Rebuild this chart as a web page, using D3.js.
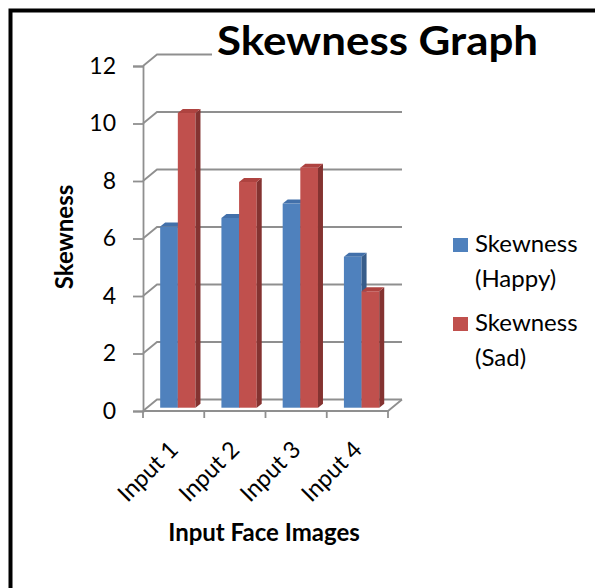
<!DOCTYPE html>
<html>
<head>
<meta charset="utf-8">
<script src="https://cdn.jsdelivr.net/npm/d3@7"></script>
<style>
  body { margin: 0; background: #fff; }
  svg { display: block; font-family: Lato, "Noto Sans", sans-serif; }
</style>
</head>
<body>
<div id="chart"></div>
<script>
// chart data
const categories = ["Input 1", "Input 2", "Input 3", "Input 4"];
const seriesNames = ["Skewness (Happy)", "Skewness (Sad)"];
const legendLines = [["Skewness", "(Happy)"], ["Skewness", "(Sad)"]];
const happyValues = [6.3, 6.6, 7.1, 5.25];
const sadValues = [10.25, 7.85, 8.35, 4.05];
const yTicks = [0, 2, 4, 6, 8, 10, 12];

const width = 595, height = 588;

// colours for front / side / top faces
const faceColors = [
    { front: "#4F81BD", side: "#385D8A", top: "#4270AA" },
    { front: "#C0504D", side: "#843331", top: "#AE4340" }
];

const svg = d3.select("#chart").append("svg")
    .attr("width", width)
    .attr("height", height);

// outer frame (only top + left visible, rest runs off the picture)
svg.append("rect")
    .attr("x", 10.5).attr("y", 10.5)
    .attr("width", 700).attr("height", 700)
    .attr("fill", "none")
    .attr("stroke", "#000")
    .attr("stroke-width", 4);

// scales (front plane)
const x0 = d3.scaleBand().domain(categories).range([143, 388]);
const x1 = d3.scaleBand().domain(seriesNames).range([0, x0.bandwidth()]).paddingOuter(0.735);
const y = d3.scaleLinear().domain([0, 12]).range([411, 66]);

// depth of the floor, and of the bars
const depth = { dx: 14, dy: -11.5 };
const barStart = { dx: 4.2, dy: -3.3 };
const barDepth = { dx: 5, dy: -4 };

const gridColor = "#8f8f8f";

// back wall gridlines + diagonal connectors
const grid = svg.append("g").attr("stroke", gridColor).attr("stroke-width", 1.8).attr("fill", "none");
yTicks.forEach(t => {
    grid.append("path")
        .attr("d", `M${x0.range()[0]},${y(t)} L${x0.range()[0] + depth.dx},${y(t) + depth.dy} L${x0.range()[1] + depth.dx},${y(t) + depth.dy}`);
});
// floor front + right edge
grid.append("path")
    .attr("d", `M${x0.range()[0]},${y(0)} L${x0.range()[1]},${y(0)} L${x0.range()[1] + depth.dx},${y(0) + depth.dy}`);

// y axis (front vertical line + ticks)
const yAxis = d3.axisLeft(y).tickValues(yTicks).tickSize(10).tickPadding(17).tickFormat(d3.format("d"));
svg.append("g")
    .attr("transform", `translate(${x0.range()[0]},0)`)
    .call(yAxis)
    .call(g => g.select(".domain").attr("stroke", gridColor).attr("stroke-width", 1.8))
    .call(g => g.selectAll(".tick line").attr("stroke", gridColor).attr("stroke-width", 1.8))
    .call(g => g.selectAll(".tick text").attr("font-size", 23).attr("fill", "#000").attr("font-family", "Lato, sans-serif"));

// x ticks at band edges
const xEdges = categories.map(c => x0(c)).concat([x0.range()[1]]);
svg.append("g").attr("stroke", gridColor).attr("stroke-width", 1.8)
    .selectAll("line").data(xEdges).join("line")
    .attr("x1", d => d).attr("x2", d => d)
    .attr("y1", y(0)).attr("y2", y(0) + 7);

// bars
const rows = categories.map((c, i) => ({ cat: c, vals: [happyValues[i], sadValues[i]] }));
const bars = svg.append("g");
rows.forEach(r => {
    r.vals.forEach((v, si) => {
        const xa = x0(r.cat) + x1(seriesNames[si]) + barStart.dx;
        const xb = xa + x1.bandwidth();
        const yt = y(v) + barStart.dy;
        const yb = y(0) + barStart.dy;
        const col = faceColors[si];
        bars.append("rect")
            .attr("x", xa).attr("y", yt)
            .attr("width", xb - xa).attr("height", yb - yt)
            .attr("fill", col.front);
        bars.append("polygon")
            .attr("points", [[xb, yt], [xb + barDepth.dx, yt + barDepth.dy], [xb + barDepth.dx, yb + barDepth.dy], [xb, yb]].join(" "))
            .attr("fill", col.side);
        bars.append("polygon")
            .attr("points", [[xa, yt], [xa + barDepth.dx, yt + barDepth.dy], [xb + barDepth.dx, yt + barDepth.dy], [xb, yt]].join(" "))
            .attr("fill", col.top);
    });
});

// category labels, rotated
svg.append("g")
    .selectAll("text").data(categories).join("text")
    .attr("transform", d => `translate(${x0(d) + x0.bandwidth() / 2 + 6},${y(0) + 40}) rotate(-45)`)
    .attr("text-anchor", "end")
    .attr("font-size", 23.5)
    .text(d => d);

// axis titles
svg.append("text")
    .attr("transform", `translate(73,237) rotate(-90)`)
    .attr("text-anchor", "middle")
    .attr("font-size", 24).attr("font-weight", "bold")
    .text("Skewness");

svg.append("text")
    .attr("x", 264).attr("y", 541)
    .attr("text-anchor", "middle")
    .attr("font-size", 24).attr("font-weight", "bold")
    .text("Input Face Images");

// title with white box behind
svg.append("rect")
    .attr("x", 212).attr("y", 22).attr("width", 332).attr("height", 40)
    .attr("fill", "#fff");
svg.append("text")
    .attr("x", 217).attr("y", 55)
    .attr("font-size", 40).attr("font-weight", "bold")
    .attr("textLength", 321).attr("lengthAdjust", "spacingAndGlyphs")
    .text("Skewness Graph");

// legend
const legend = svg.append("g");
legendLines.forEach((lines, i) => {
    const top = 238 + i * 79;
    legend.append("rect")
        .attr("x", 453).attr("y", top)
        .attr("width", 15).attr("height", 14)
        .attr("fill", faceColors[i].front);
    legend.append("text")
        .attr("x", 475).attr("y", top + 14)
        .attr("font-size", 24)
        .selectAll("tspan").data(lines).join("tspan")
        .attr("x", 475)
        .attr("dy", (d, j) => j ? 35 : 0)
        .text(d => d);
});
</script>
</body>
</html>
